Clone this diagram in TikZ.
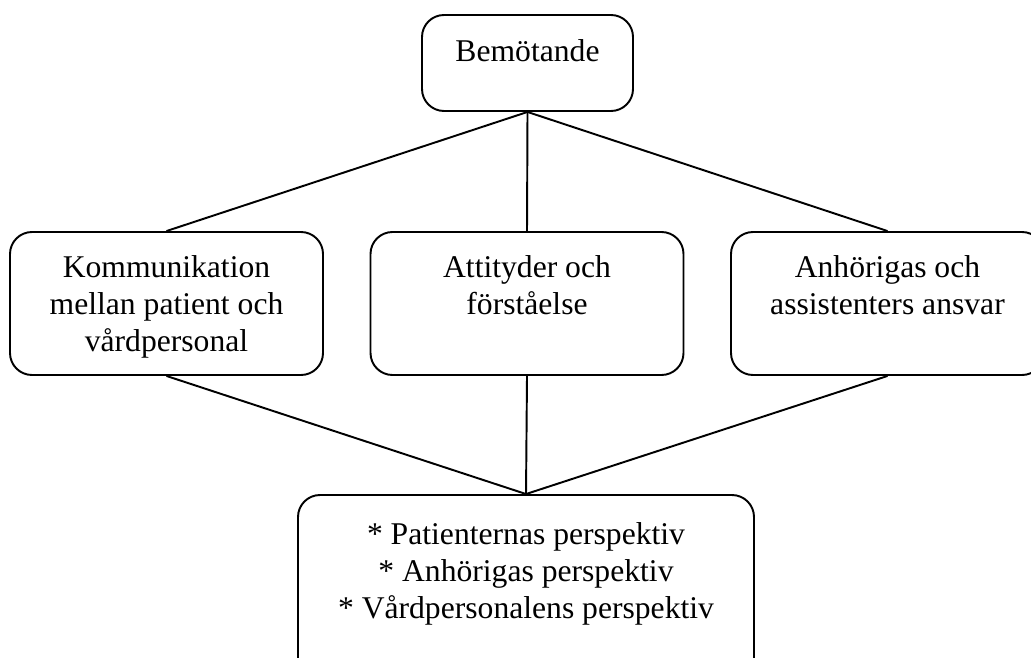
\documentclass[tikz,border=0pt]{standalone}
\usepackage{fontspec}
\setmainfont{Liberation Serif}
\usetikzlibrary{positioning}

\tikzset{
	ruta/.style = {draw, line width=1.1pt, rounded corners=0.44cm, inner sep=0pt},
	rutatext/.style = {align=center, inner sep=0pt, font=\fontsize{18}{21}\selectfont},
}

\begin{document}
\begin{tikzpicture}
	\useasboundingbox (0,0) rectangle (20.62,-13.14);
	\clip (0,0) rectangle (20.62,-13.14);
	
	\node (bemotande) [ruta, minimum width=4.22cm, minimum height=1.92cm] at (10.55,-1.26) {};
	\node (bemotandetext) [rutatext, below=0.5cm of bemotande.north] {Bemötande};
	
	\node (kommunikation) [ruta, minimum width=6.26cm, minimum height=2.86cm] at (3.33,-6.07) {};
	\node (kommunikationtext) [rutatext, below=0.48cm of kommunikation.north] {Kommunikation\\mellan patient och\\vårdpersonal};
	
	\node (attityder) [ruta, minimum width=6.26cm, minimum height=2.86cm] at (10.54,-6.07) {};
	\node (attitydertext) [rutatext, below=0.48cm of attityder.north] {Attityder och\\förståelse};
	
	\node (anhoriga) [ruta, minimum width=6.26cm, minimum height=2.86cm] at (17.75,-6.07) {};
	\node (anhorigatext) [rutatext, below=0.48cm of anhoriga.north] {Anhörigas och\\assistenters ansvar};
	
	\node (perspektiv) [ruta, minimum width=9.12cm, minimum height=3.7cm] at (10.52,-11.75) {};
	\node (perspektivtext) [rutatext, below=0.56cm of perspektiv.north] {* Patienternas perspektiv\\* Anhörigas perspektiv\\* Vårdpersonalens perspektiv};
	
	\draw [line width=1.1pt] (bemotande.south) -- (kommunikation.north);
	\draw [line width=1.1pt] (bemotande.south) -- (attityder.north);
	\draw [line width=1.1pt] (bemotande.south) -- (anhoriga.north);
	
	\draw [line width=1.1pt] (kommunikation.south) -- (perspektiv.north);
	\draw [line width=1.1pt] (attityder.south) -- (perspektiv.north);
	\draw [line width=1.1pt] (anhoriga.south) -- (perspektiv.north);
\end{tikzpicture}
\end{document}
